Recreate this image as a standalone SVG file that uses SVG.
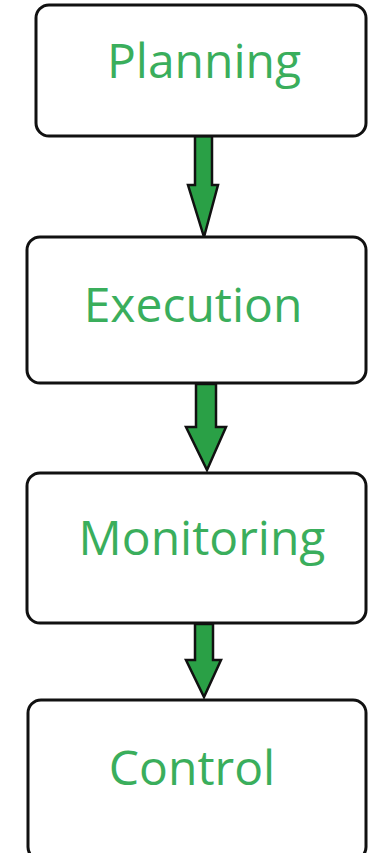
<svg xmlns="http://www.w3.org/2000/svg" width="368" height="853" viewBox="0 0 368 853">
<style>
.box{fill:#fff;stroke:#111;stroke-width:3}
.lbl{font-family:"Open Sans","Liberation Sans",sans-serif;font-size:48px;fill:#3aae5c;text-anchor:middle}
.arr{fill:#2aa046;stroke:#111;stroke-width:2.5;stroke-linejoin:miter}
</style>
<rect width="368" height="853" fill="#fff"/>
<g id="connectors">
<path class="arr" d="M195,136 H212 V185 H218 L204,237 L188,185 H195 Z"/>
<path class="arr" d="M196,384 H216 V427 H226 L207,470 L186,427 H196 Z"/>
<path class="arr" d="M195,624 H213 V660 H221 L204,697 L186,660 H195 Z"/>
</g>
<g id="planning">
<rect class="box" x="36" y="5" width="330" height="131" rx="13"/>
<text class="lbl" x="204" y="78">Planning</text>
</g>
<g id="execution">
<rect class="box" x="27" y="237" width="339" height="146" rx="13"/>
<text class="lbl" x="193" y="322">Execution</text>
</g>
<g id="monitoring">
<rect class="box" x="27" y="473" width="339" height="150" rx="13"/>
<text class="lbl" x="202" y="555">Monitoring</text>
</g>
<g id="control">
<rect class="box" x="28" y="700" width="338" height="160" rx="13"/>
<text class="lbl" x="192" y="785">Control</text>
</g>
</svg>
